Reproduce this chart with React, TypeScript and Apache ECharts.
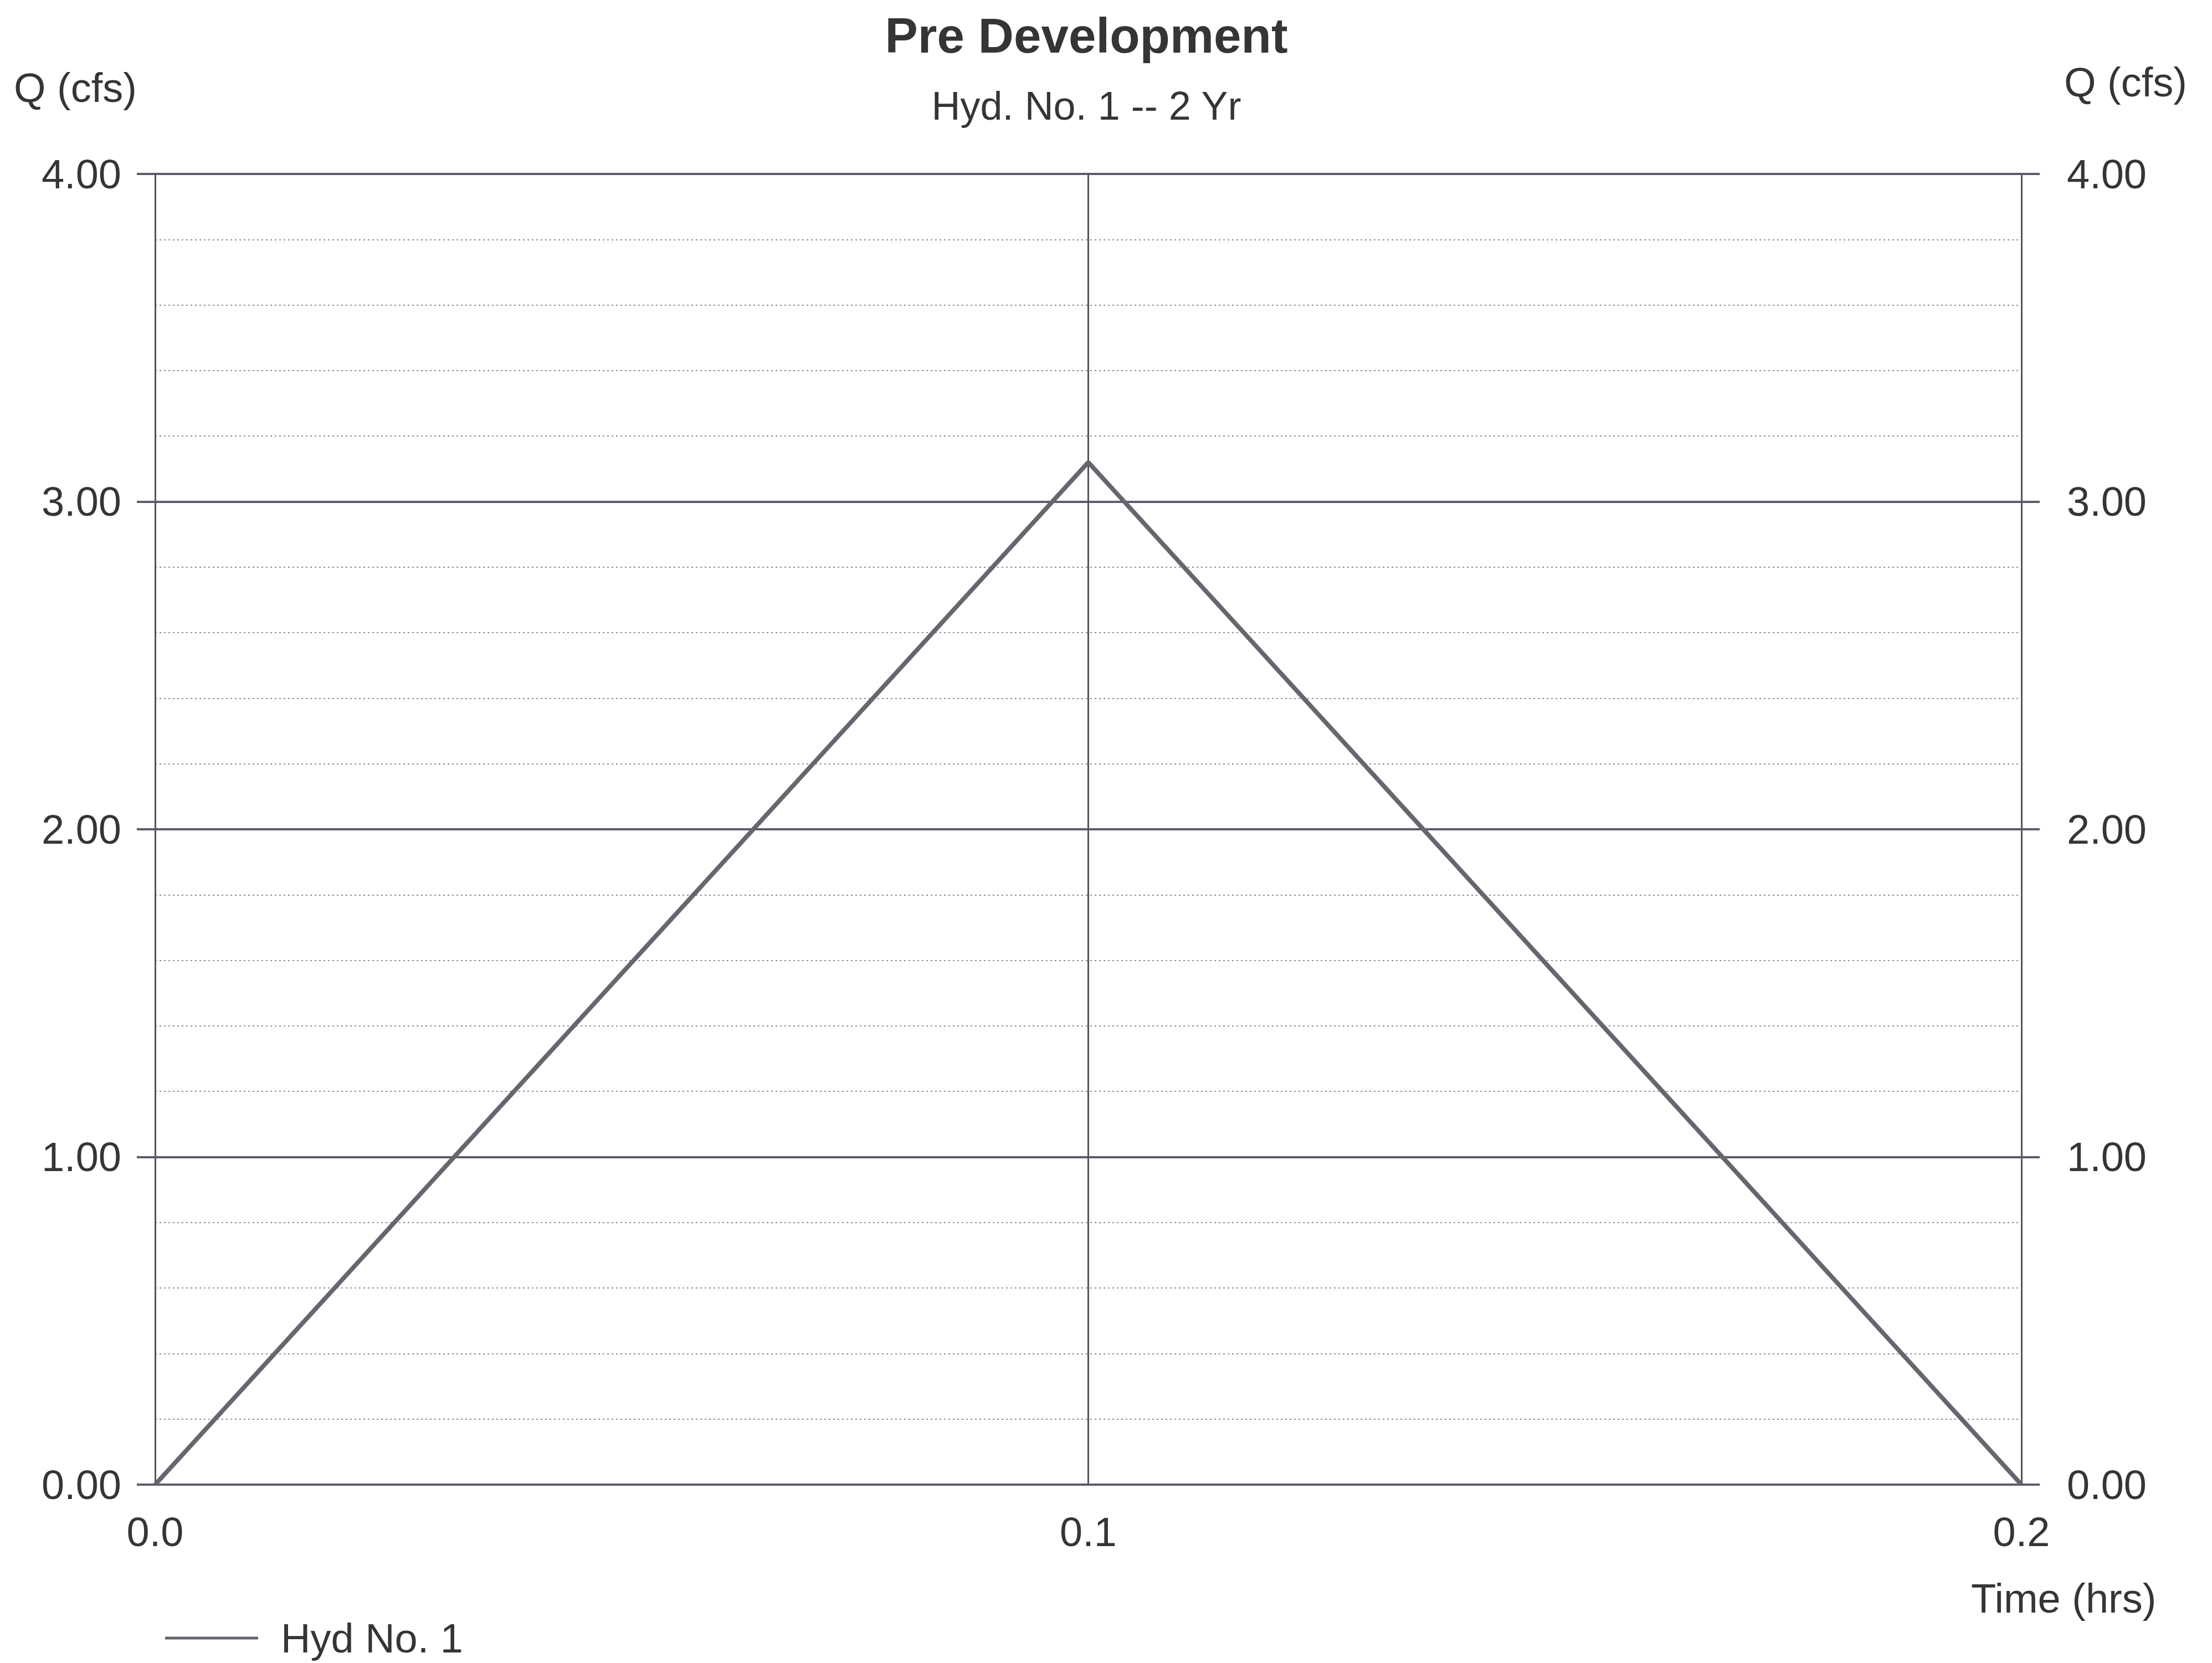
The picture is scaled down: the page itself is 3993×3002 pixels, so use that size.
import React, { useEffect, useRef } from "react";
import * as echarts from "echarts";

// Hydrograph: discharge over time
const times: number[] = [0, 0.1, 0.2]; // hrs
const flows: number[] = [0, 3.12, 0]; // cfs

const chartTitle = "Pre Development";
const chartSubtitle = "Hyd. No. 1 -- 2 Yr";
const seriesName = "Hyd No. 1";
const yAxisName = "Q (cfs)";
const xAxisName = "Time (hrs)";

const FONT = "'Liberation Sans', Arial, Helvetica, sans-serif";
const TEXT = "#353535";
const MAJOR = "#5f5a6c";
const MINOR = "#8e8c9c";
const VERT = "#555559";
const HYD = "#66666f";

export default function App() {
  const ref = useRef<HTMLDivElement>(null);

  useEffect(() => {
    if (!ref.current) return;
    const chart = echarts.init(ref.current, null, { renderer: "svg" });

    const yAxisBase = {
      type: "value" as const,
      min: 0,
      max: 4,
      interval: 1,
      axisLine: { show: false },
      axisTick: { show: true, length: 33, lineStyle: { color: MAJOR, width: 4 } },
      axisLabel: {
        formatter: (v: number) => v.toFixed(2),
        fontSize: 74,
        color: TEXT,
        fontFamily: FONT,
      },
    };

    chart.setOption({
      animation: false,
      backgroundColor: "#ffffff",
      textStyle: { fontFamily: FONT },
      grid: { left: 280, right: 344, top: 314, bottom: 322, containLabel: false },
      xAxis: {
        type: "value",
        min: 0,
        max: 0.2,
        interval: 0.1,
        axisLine: { show: false },
        axisTick: { show: false },
        axisLabel: {
          formatter: (v: number) => v.toFixed(1),
          fontSize: 74,
          color: TEXT,
          fontFamily: FONT,
          margin: 48,
        },
        splitLine: { show: true, lineStyle: { color: VERT, width: 3 } },
      },
      yAxis: [
        {
          ...yAxisBase,
          position: "left",
          axisLabel: { ...yAxisBase.axisLabel, margin: 61 },
          splitLine: { show: true, lineStyle: { color: MAJOR, width: 4 } },
          minorTick: { show: false, splitNumber: 5 },
          minorSplitLine: { show: true, lineStyle: { color: MINOR, width: 2, type: [3, 5] } },
        },
        {
          ...yAxisBase,
          position: "right",
          axisLabel: { ...yAxisBase.axisLabel, margin: 82 },
          splitLine: { show: false },
        },
      ],
      legend: {
        data: [seriesName],
        icon: "rect",
        left: 293,
        top: 2915,
        itemWidth: 168,
        itemHeight: 5,
        textStyle: { fontSize: 74, color: TEXT, fontFamily: FONT, padding: [0, 0, 0, 36] },
      },
      series: [
        {
          type: "line",
          name: seriesName,
          data: times.map((t, i) => [t, flows[i]]),
          symbol: "none",
          lineStyle: { color: HYD, width: 8 },
          itemStyle: { color: HYD },
          z: 5,
        },
      ],
      graphic: [
        {
          type: "text",
          x: 1961,
          y: 64,
          style: {
            text: chartTitle,
            fontSize: 89,
            fontWeight: "bold",
            fontFamily: FONT,
            fill: TEXT,
            align: "center",
            verticalAlign: "middle",
          },
        },
        {
          type: "text",
          x: 1961,
          y: 191,
          style: {
            text: chartSubtitle,
            fontSize: 72,
            fontFamily: FONT,
            fill: TEXT,
            align: "center",
            verticalAlign: "middle",
          },
        },
        {
          type: "text",
          x: 25,
          y: 158,
          style: { text: yAxisName, fontSize: 74, fontFamily: FONT, fill: TEXT, align: "left", verticalAlign: "middle" },
        },
        {
          type: "text",
          x: 3726,
          y: 148,
          style: { text: yAxisName, fontSize: 74, fontFamily: FONT, fill: TEXT, align: "left", verticalAlign: "middle" },
        },
        {
          type: "text",
          x: 3558,
          y: 2885,
          style: { text: xAxisName, fontSize: 74, fontFamily: FONT, fill: TEXT, align: "left", verticalAlign: "middle" },
        },
      ],
    });

    return () => chart.dispose();
  }, []);

  return (
    <div
      ref={ref}
      style={{ position: "fixed", left: 0, top: 0, width: "3993px", height: "3002px", background: "#fff" }}
    />
  );
}
